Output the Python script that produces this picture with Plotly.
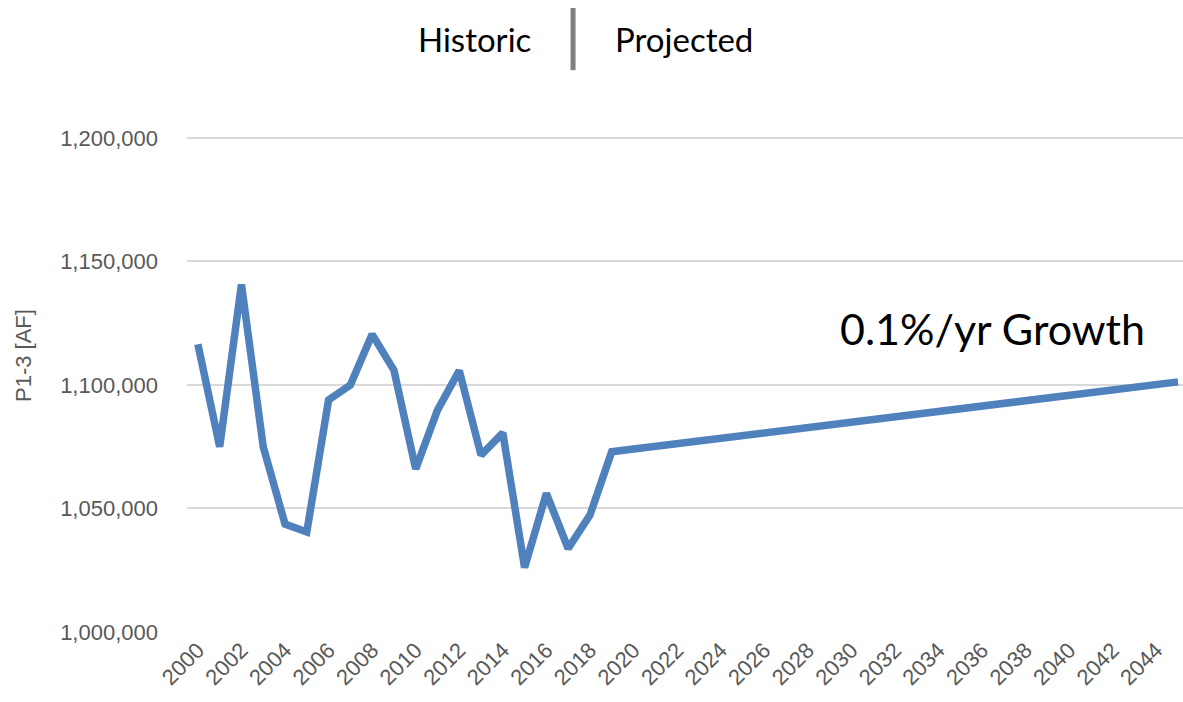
import plotly.graph_objects as go

# ---- data ----
years = list(range(2000, 2046))
historic_values = [
    1116500, 1075000, 1140700, 1075000, 1043700, 1040500, 1093900, 1100000,
    1120500, 1106000, 1066000, 1089800, 1105800, 1071600, 1080600, 1026100,
    1056100, 1033800, 1047300,
]
projected_values = [
    1073000, 1074073, 1075147, 1076222, 1077298, 1078376, 1079454, 1080533,
    1081614, 1082696, 1083778, 1084862, 1085947, 1087033, 1088120, 1089208,
    1090297, 1091388, 1092479, 1093571, 1094665, 1095760, 1096855, 1097952,
    1099050, 1100149, 1101249,
]
values = historic_values + projected_values
x_tick_vals = list(range(2000, 2045, 2))
x_tick_text = [str(v) for v in x_tick_vals]
y_tick_vals = [1000000, 1050000, 1100000, 1150000, 1200000]
y_tick_text = ["1,000,000", "1,050,000", "1,100,000", "1,150,000", "1,200,000"]

LINE_COLOR = "#4F81BD"
GRID = "#D9D9D9"
TICK_COLOR = "#595959"
TICK_FONT = dict(family="Liberation Sans, Arial, sans-serif", size=22, color=TICK_COLOR)
CAL_FONT = "Lato, Open Sans, sans-serif"

fig = go.Figure()
fig.add_trace(go.Scatter(
    x=years, y=values, mode="lines",
    line=dict(color=LINE_COLOR, width=7.5),
    hoverinfo="skip", showlegend=False,
))

fig.update_layout(
    width=1183, height=702,
    margin=dict(l=187, r=0, t=133, b=70, autoexpand=False),
    paper_bgcolor="white", plot_bgcolor="white",
    separators=".,",
    xaxis=dict(
        range=[1999.5, 2045.23],
        tickmode="array", tickvals=x_tick_vals, ticktext=x_tick_text,
        tickangle=-45, tickfont=TICK_FONT,
        showgrid=False, zeroline=False, showline=False,
        ticks="", automargin=False,
    ),
    yaxis=dict(
        range=[1000000, 1202000],
        tickmode="array", tickvals=y_tick_vals, ticktext=y_tick_text,
        tickfont=TICK_FONT, ticklabelstandoff=28,
        showgrid=True, gridcolor=GRID, gridwidth=1.5,
        zeroline=False, showline=False, ticks="", automargin=False,
    ),
)

annotations = [
    dict(text="P1-3 [AF]", textangle=-90, xref="paper", yref="paper",
         x=-0.1647, y=0.555, xanchor="center", yanchor="middle", showarrow=False,
         font=dict(family="Liberation Sans, Arial, sans-serif", size=22, color=TICK_COLOR)),
    dict(text="0.1%/yr Growth", xref="paper", yref="paper",
         x=0.6536, y=0.609, xanchor="left", yanchor="middle", showarrow=False,
         font=dict(family=CAL_FONT, size=43, color="black")),
    dict(text="Historic", xref="paper", yref="paper",
         x=0.3474, y=1.188, xanchor="right", yanchor="middle", showarrow=False,
         font=dict(family=CAL_FONT, size=33, color="black")),
    dict(text="Projected", xref="paper", yref="paper",
         x=0.4277, y=1.188, xanchor="left", yanchor="middle", showarrow=False,
         font=dict(family=CAL_FONT, size=33, color="black")),
]
fig.update_layout(annotations=annotations)

fig.add_shape(type="line", xref="paper", yref="paper",
              x0=0.3876, x1=0.3876, y0=1.126, y1=1.2505,
              line=dict(color="#808080", width=5))

fig.write_html("out.html", config={"displayModeBar": False},
               post_script="document.body.style.margin='0';")
